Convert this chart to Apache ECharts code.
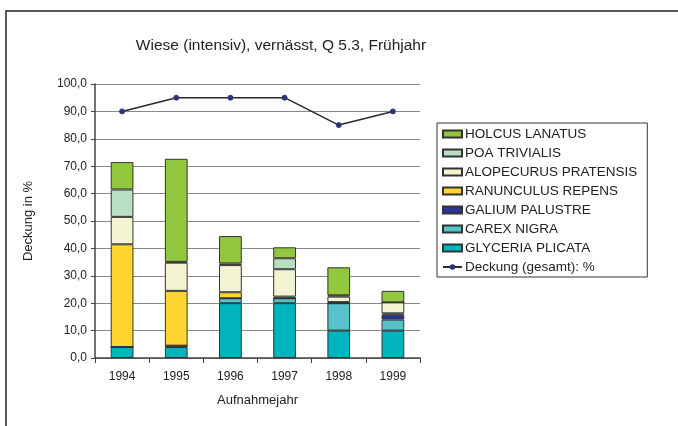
<!DOCTYPE html>
<html>
<head>
<meta charset="utf-8">
<script src="https://cdn.jsdelivr.net/npm/echarts@6/dist/echarts.min.js"></script>
<style>
  html, body { margin: 0; padding: 0; background: #fff; }
  #chart { width: 678px; height: 426px; }
</style>
</head>
<body>
<div id="chart"></div>
<script>
const years = ['1994', '1995', '1996', '1997', '1998', '1999']

// Deckung in % je Art (von unten nach oben gestapelt)
const glyceriaPlicata = [4.0, 4.0, 20.0, 20.0, 10.0, 10.0]
const carexNigra = [0, 0.5, 1.8, 1.8, 10.0, 4.0]
const galiumPalustre = [0, 0, 0, 0, 0, 1.8]
const ranunculusRepens = [37.5, 20.0, 2.2, 0.6, 0.4, 0.5]
const alopecurusPratensis = [10.0, 10.3, 9.9, 10.0, 2.0, 4.0]
const poaTrivialis = [10.0, 0.3, 0.6, 4.0, 0.5, 0]
const holcusLanatus = [10.0, 37.6, 10.0, 4.0, 10.2, 4.2]
const deckungGesamt = [90, 95, 95, 95, 85, 90]

const yTicks = [0, 10, 20, 30, 40, 50, 60, 70, 80, 90, 100]

const chart = echarts.init(document.getElementById('chart'))

const textColor = '#222'
const fontFamily = '"Liberation Sans", Arial, sans-serif'

const barSeries = (name, data, color) => ({
  name,
  type: 'bar',
  stack: 'arten',
  data,
  barWidth: '42%',
  itemStyle: { color, borderColor: '#333', borderWidth: 1 }
})

const option = {
  animation: false,
  textStyle: { fontFamily, color: textColor },
  title: {
    text: 'Wiese (intensiv), vernässt, Q 5.3, Frühjahr',
    left: 276,
    top: 33,
    textAlign: 'center',
    textStyle: { fontSize: 15.5, fontWeight: 'normal', color: textColor, fontFamily }
  },
  grid: { left: 95, right: 258, top: 84, bottom: 68 },
  legend: {
    orient: 'vertical',
    left: 437,
    top: 123,
    width: 210,
    height: 155,
    padding: [4, 10, 3, 5],
    itemGap: 5,
    itemWidth: 19,
    itemHeight: 7,
    borderColor: '#333',
    borderWidth: 1,
    textStyle: { fontSize: 13.5, color: textColor, fontFamily, padding: [1, 0, 0, -2] },
    data: [
      { name: 'HOLCUS LANATUS', icon: 'rect' },
      { name: 'POA TRIVIALIS', icon: 'rect' },
      { name: 'ALOPECURUS PRATENSIS', icon: 'rect' },
      { name: 'RANUNCULUS REPENS', icon: 'rect' },
      { name: 'GALIUM PALUSTRE', icon: 'rect' },
      { name: 'CAREX NIGRA', icon: 'rect' },
      { name: 'GLYCERIA PLICATA', icon: 'rect' },
      'Deckung (gesamt): %'
    ]
  },
  xAxis: {
    type: 'category',
    data: years,
    name: 'Aufnahmejahr',
    nameLocation: 'middle',
    nameGap: 36,
    nameTextStyle: { fontSize: 13, color: textColor },
    axisLine: { lineStyle: { color: '#444', width: 1.5 } },
    axisTick: { show: true, length: 5, lineStyle: { color: '#444' } },
    axisLabel: { fontSize: 12, color: textColor, margin: 13 }
  },
  yAxis: {
    type: 'value',
    min: 0,
    max: 100,
    interval: 10,
    name: 'Deckung in %',
    nameLocation: 'middle',
    nameGap: 60,
    nameTextStyle: { fontSize: 13, color: textColor },
    axisLine: { show: true, lineStyle: { color: '#444', width: 1.5 } },
    axisTick: { show: true, length: 4, lineStyle: { color: '#444' } },
    axisLabel: {
      fontSize: 12,
      color: textColor,
      margin: 8,
      formatter: v => yTicks.includes(v) ? v.toFixed(1).replace('.', ',') : ''
    },
    splitLine: { lineStyle: { color: '#8a8a8a', width: 1 } }
  },
  series: [
    barSeries('GLYCERIA PLICATA', glyceriaPlicata, '#00b4bf'),
    barSeries('CAREX NIGRA', carexNigra, '#55c3c9'),
    barSeries('GALIUM PALUSTRE', galiumPalustre, '#2b3592'),
    barSeries('RANUNCULUS REPENS', ranunculusRepens, '#fed62f'),
    barSeries('ALOPECURUS PRATENSIS', alopecurusPratensis, '#f3f5d2'),
    barSeries('POA TRIVIALIS', poaTrivialis, '#b9dfc2'),
    barSeries('HOLCUS LANATUS', holcusLanatus, '#92c83e'),
    {
      name: 'Deckung (gesamt): %',
      type: 'line',
      data: deckungGesamt,
      symbol: 'circle',
      symbolSize: 5,
      lineStyle: { color: '#2a2a2a', width: 1.5 },
      itemStyle: { color: '#2e3577', borderColor: '#2e3577' }
    }
  ],
  graphic: [{
    type: 'polyline',
    shape: { points: [[678, 11], [6, 11], [6, 426]] },
    style: { stroke: '#222', lineWidth: 1.5, fill: null }
  }]
}

chart.setOption(option)
</script>
</body>
</html>
